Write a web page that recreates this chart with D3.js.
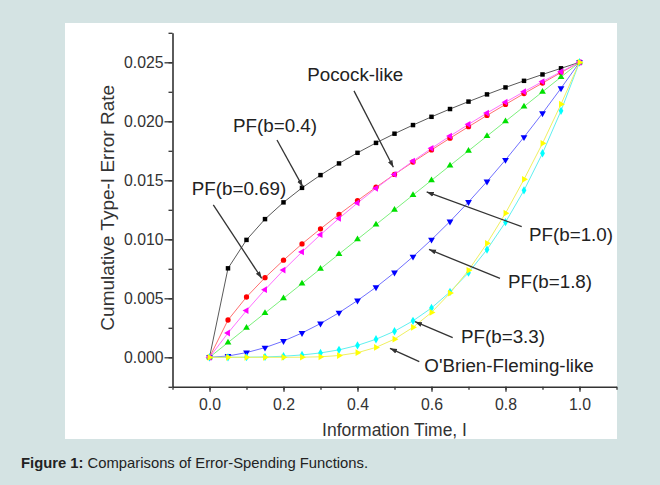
<!DOCTYPE html>
<html>
<head>
<meta charset="utf-8">
<script src="https://cdn.jsdelivr.net/npm/d3@7"></script>
<style>
  body { margin: 0; background: #d4e3e3; }
  svg { display: block; font-family: "Liberation Sans", Arial, sans-serif; }
</style>
</head>
<body>
<div class="chart"></div>
<script>
// information time grid
const infoTime = [0, 0.05, 0.1, 0.15, 0.2, 0.25, 0.3, 0.35, 0.4, 0.45, 0.5,
                  0.55, 0.6, 0.65, 0.7, 0.75, 0.8, 0.85, 0.9, 0.95, 1.0];
// cumulative type-I error
const pf04   = [0, 0.00754, 0.00995, 0.01171, 0.01313, 0.01436, 0.01544, 0.01643, 0.01733, 0.01817, 0.01895,
                0.01968, 0.02038, 0.02104, 0.02167, 0.02228, 0.02287, 0.02343, 0.02397, 0.02449, 0.025];
const pf069  = [0, 0.00316, 0.00511, 0.00675, 0.00823, 0.00961, 0.01089, 0.01211, 0.01328, 0.01441, 0.01550,
                0.01655, 0.01757, 0.01857, 0.01954, 0.02050, 0.02143, 0.02235, 0.02324, 0.02413, 0.025];
const pocock = [0, 0.00206, 0.00396, 0.00573, 0.00739, 0.00893, 0.01039, 0.01177, 0.01308, 0.01432, 0.01550,
                0.01663, 0.01771, 0.01875, 0.01974, 0.02070, 0.02162, 0.02251, 0.02337, 0.02420, 0.025];
const pf10   = [0, 0.00125, 0.0025, 0.00375, 0.005, 0.00625, 0.0075, 0.00875, 0.01, 0.01125, 0.0125,
                0.01375, 0.015, 0.01625, 0.0175, 0.01875, 0.02, 0.02125, 0.0225, 0.02375, 0.025];
const pf18   = [0, 0.00011, 0.00040, 0.00082, 0.00138, 0.00206, 0.00286, 0.00378, 0.00481, 0.00594, 0.00718,
                0.00853, 0.00997, 0.01151, 0.01316, 0.01490, 0.01673, 0.01866, 0.02068, 0.02280, 0.025];
const pf33   = [0, 0, 0.00001, 0.00003, 0.00009, 0.00020, 0.00037, 0.00063, 0.00101, 0.00153, 0.00221,
                0.00309, 0.00418, 0.00554, 0.00717, 0.00913, 0.01145, 0.01415, 0.01729, 0.02089, 0.025];
const obf    = [0, 0, 0, 0, 0, 0.00001, 0.00004, 0.00015, 0.00039, 0.00084, 0.00154,
                0.00254, 0.00380, 0.00544, 0.00737, 0.00966, 0.01221, 0.01508, 0.01813, 0.02145, 0.025];

const yTicks = [0, 0.005, 0.01, 0.015, 0.02, 0.025];
const xTicks = [0, 0.2, 0.4, 0.6, 0.8, 1.0];

// draw order follows the original plot
const series = [
    {name: "PF(b=0.4)",  values: pf04,   color: "#000000", line: "#5a5a5a", symbol: "square"},
    {name: "PF(b=0.69)", values: pf069,  color: "#ff0000", line: "#ff7070", symbol: "circle"},
    {name: "PF(b=1.0)",  values: pf10,   color: "#00e000", line: "#7cf07c", symbol: "up"},
    {name: "PF(b=1.8)",  values: pf18,   color: "#0000ff", line: "#7070ff", symbol: "down"},
    {name: "PF(b=3.3)",  values: pf33,   color: "#00ffff", line: "#60f0f0", symbol: "diamond"},
    {name: "Pocock-like", values: pocock, color: "#ff00ff", line: "#ff70ff", symbol: "left"},
    {name: "O'Brien-Fleming-like", values: obf, color: "#ffff00", line: "#f0f060", symbol: "right"},
];

// annotation text anchor and arrow, in data units
const notes = [
    {text: "Pocock-like",          tx: 0.394,  ty: 0.02342,  anchor: "middle", from: [0.3905, 0.02258], to: [0.497, 0.0161]},
    {text: "PF(b=0.4)",            tx: 0.0635, ty: 0.01912,  anchor: "start",  from: [0.1824, 0.01842], to: [0.2519, 0.01446]},
    {text: "PF(b=0.69)",           tx: -0.048, ty: 0.01375,  anchor: "start",  from: [0.0103, 0.01291], to: [0.1411, 0.00669]},
    {text: "PF(b=1.0)",            tx: 0.8635, ty: 0.00988,  anchor: "start",  from: [0.8438, 0.01107], to: [0.587, 0.01401]},
    {text: "PF(b=1.8)",            tx: 0.8068, ty: 0.00585,  anchor: "start",  from: [0.7851, 0.00669], to: [0.5932, 0.00914]},
    {text: "PF(b=3.3)",            tx: 0.6797, ty: 0.00119,  anchor: "start",  from: [0.6573, 0.00166], to: [0.5554, 0.00302]},
    {text: "O'Brien-Fleming-like", tx: 0.5805, ty: -0.00127, anchor: "start",  from: [0.567, -0.00037], to: [0.4878, 0.00076]},
];

const W = 660, H = 485;
const svg = d3.select(".chart").append("svg").attr("width", W).attr("height", H);

svg.append("rect").attr("width", W).attr("height", H).attr("fill", "#d4e3e3");
svg.append("rect").attr("x", 65).attr("y", 23).attr("width", 552).attr("height", 416).attr("fill", "#ffffff");

const x = d3.scaleLinear().domain([-0.1, 1.1]).range([172.5, 616.5]);
const y = d3.scaleLinear().domain([-0.0025, 0.0275]).range([386.8, 32.8]);

const axisColor = "#333";

// minor ticks
const yMinor = d3.range(-0.0025, 0.0276, 0.0025);
const xMinor = d3.range(-0.1, 1.11, 0.1);
svg.append("g").attr("transform", `translate(${x(-0.1)},0)`)
    .call(d3.axisLeft(y).tickValues(yMinor).tickSize(4).tickSizeOuter(0).tickFormat(""))
    .call(g => g.select(".domain").remove());
svg.append("g").attr("transform", `translate(0,${y(-0.0025)})`)
    .call(d3.axisBottom(x).tickValues(xMinor).tickSize(3).tickSizeOuter(0).tickFormat(""))
    .call(g => g.select(".domain").remove());

svg.append("g").attr("transform", `translate(${x(-0.1)},0)`)
    .call(d3.axisLeft(y).tickValues(yTicks).tickSize(8).tickSizeOuter(0).tickPadding(1).tickFormat(d3.format(".3f")));
svg.append("g").attr("transform", `translate(0,${y(-0.0025)})`)
    .call(d3.axisBottom(x).tickValues(xTicks).tickSize(5).tickSizeOuter(0).tickPadding(7).tickFormat(d3.format(".1f")));

svg.selectAll(".tick line").attr("stroke", axisColor).attr("stroke-width", 1.3);
svg.selectAll(".domain").attr("stroke", axisColor).attr("stroke-width", 1.6);
svg.selectAll(".tick text").attr("fill", "#333").style("font-size", "15.8px")
    .style("font-family", "'Liberation Sans', Arial, sans-serif");

// axis titles
svg.append("text")
    .attr("transform", `translate(114,${(y.range()[0] + y.range()[1]) / 2 - 2}) rotate(-90)`)
    .attr("text-anchor", "middle")
    .attr("fill", "#333")
    .style("font-size", "19px")
    .text("Cumulative Type-I Error Rate");
svg.append("text")
    .attr("x", (x.range()[0] + x.range()[1]) / 2)
    .attr("y", 436)
    .attr("text-anchor", "middle")
    .attr("fill", "#333")
    .style("font-size", "17.5px")
    .text("Information Time, I");

// curves
const line = d3.line().x((d, i) => x(infoTime[i])).y(d => y(d));
const shapes = {
    square:  [d3.symbolSquare, 0],
    circle:  [d3.symbolCircle, 0],
    up:      [d3.symbolTriangle, 0],
    down:    [d3.symbolTriangle, 180],
    diamond: [d3.symbolDiamond, 0],
    left:    [d3.symbolTriangle, -90],
    right:   [d3.symbolTriangle, 90],
};
const sizes = {square: 20, circle: 22, up: 20, down: 20, diamond: 20, left: 20, right: 20};

const plot = svg.append("g");
series.forEach(s => {
    plot.append("path")
        .attr("d", line(s.values))
        .attr("fill", "none")
        .attr("stroke", s.line)
        .attr("stroke-width", 1);
});
series.forEach(s => {
    const [type, rot] = shapes[s.symbol];
    const sym = d3.symbol().type(type).size(sizes[s.symbol]);
    plot.append("g").selectAll("path")
        .data(s.values)
        .join("path")
        .attr("d", sym)
        .attr("transform", (d, i) => `translate(${x(infoTime[i])},${y(d)}) rotate(${rot})`)
        .attr("fill", s.color);
});

// arrows and labels
svg.append("defs").append("marker")
    .attr("id", "arrow")
    .attr("viewBox", "0 0 10 10")
    .attr("refX", 10).attr("refY", 5)
    .attr("markerWidth", 7).attr("markerHeight", 7)
    .attr("markerUnits", "userSpaceOnUse")
    .attr("orient", "auto")
    .append("path")
    .attr("d", "M0,1.5 L10,5 L0,8.5 Z")
    .attr("fill", "#333");

const ann = svg.append("g");
notes.forEach(n => {
    ann.append("line")
        .attr("x1", x(n.from[0])).attr("y1", y(n.from[1]))
        .attr("x2", x(n.to[0])).attr("y2", y(n.to[1]))
        .attr("stroke", "#333")
        .attr("stroke-width", 1.3)
        .attr("marker-end", "url(#arrow)");
    ann.append("text")
        .attr("x", x(n.tx)).attr("y", y(n.ty))
        .attr("text-anchor", n.anchor)
        .attr("fill", "#222")
        .style("font-size", "18.8px")
        .text(n.text);
});

// caption
const cap = svg.append("text")
    .attr("x", 21).attr("y", 468)
    .attr("fill", "#222")
    .style("font-size", "14.8px");
cap.append("tspan").attr("font-weight", "bold").text("Figure 1:");
cap.append("tspan").text(" Comparisons of Error-Spending Functions.");
</script>
</body>
</html>
